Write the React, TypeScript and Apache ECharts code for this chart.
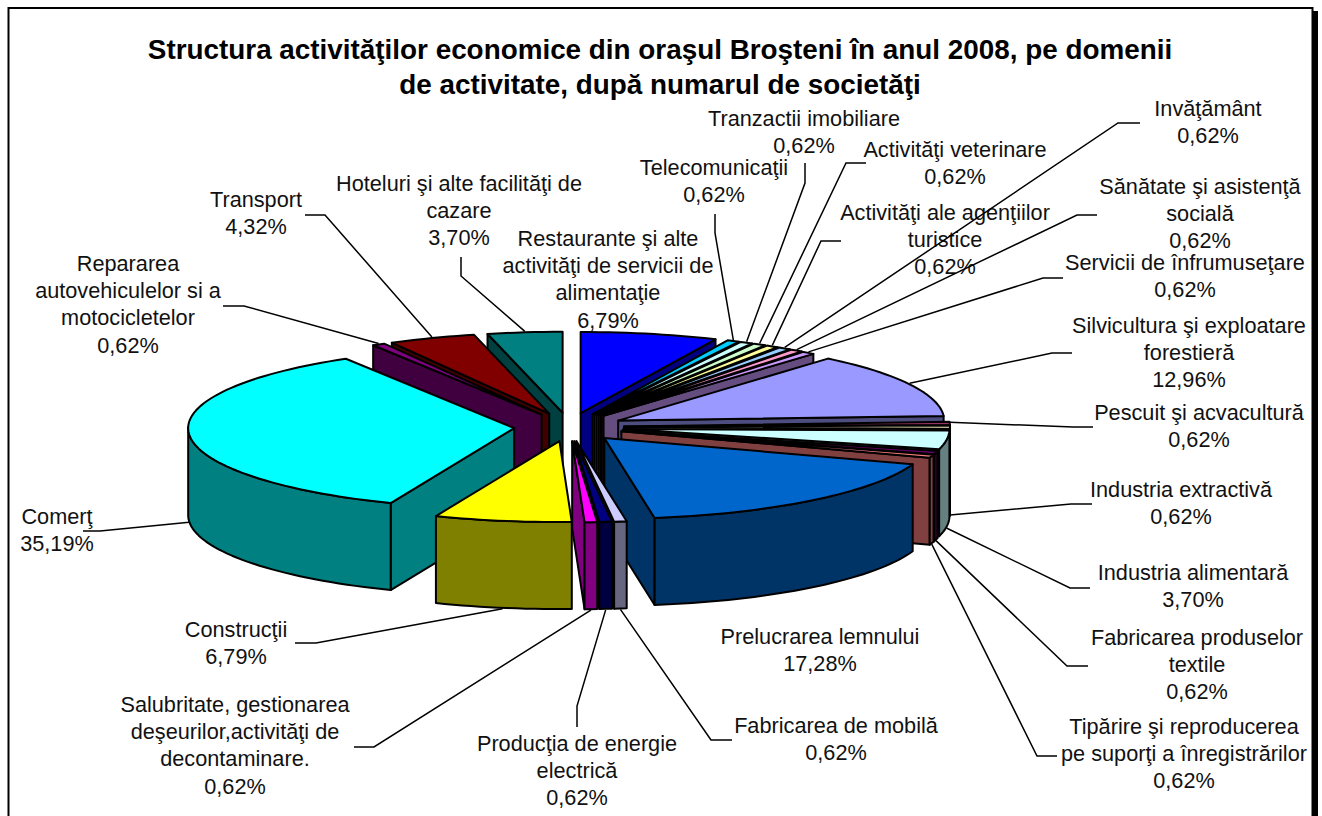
import React, { useEffect, useRef } from "react";
import * as echarts from "echarts";

const titleLines = [
  "Structura activităţilor economice din oraşul Broşteni în anul 2008, pe domenii",
  "de activitate, după numarul de societăţi",
];

const names = [
  "Restaurante şi alte\nactivităţi de servicii de\nalimentaţie",
  "Telecomunicaţii",
  "Tranzactii imobiliare",
  "Activităţi veterinare",
  "Activităţi ale agenţiilor\nturistice",
  "Invăţământ",
  "Sănătate şi asistenţă\nsocială",
  "Servicii de înfrumuseţare",
  "Silvicultura şi exploatare\nforestieră",
  "Pescuit şi acvacultură",
  "Industria extractivă",
  "Industria alimentară",
  "Fabricarea produselor\ntextile",
  "Tipărire şi reproducerea\npe suporţi a înregistrărilor",
  "Prelucrarea lemnului",
  "Fabricarea de mobilă",
  "Producţia de energie\nelectrică",
  "Salubritate, gestionarea\ndeşeurilor,activităţi de\ndecontaminare.",
  "Construcţii",
  "Comerţ",
  "Repararea\nautovehiculelor si a\nmotocicletelor",
  "Transport",
  "Hoteluri şi alte facilităţi de\ncazare",
];

const values = [
  6.79, 0.62, 0.62, 0.62, 0.62, 0.62, 0.62, 0.62, 12.96, 0.62, 0.62, 3.7, 0.62,
  0.62, 17.28, 0.62, 0.62, 0.62, 6.79, 35.19, 0.62, 4.32, 3.7,
];

const topColors = [
  "#0000FF", "#00CCFF", "#CCFFFF", "#CCFFCC", "#FFFF99", "#99CCFF", "#FF99CC", "#CC99FF",
  "#9999FF", "#993366", "#FFFFCC", "#CCFFFF", "#660066", "#FF8080", "#0066CC", "#CCCCFF",
  "#000080", "#FF00FF", "#FFFF00", "#00FFFF", "#800080", "#800000", "#008080",
];

// Label layout: centre x and y of the block's first line.
const labelX = [608, 714, 804, 955, 945, 1208, 1200, 1185, 1189, 1199, 1181, 1193, 1197, 1184, 820, 836, 577, 235, 236, 57, 128, 256, 459];
const labelY = [238, 167, 118, 149, 212, 108, 186, 262, 325, 412, 489, 572, 637, 726, 636, 725, 743, 704, 629, 516, 263, 199, 183];

// Leader layout: [elbow x, elbow y, end x, end y]; empty when the label has no leader.
const leaders: number[][] = [
  [], [715, 233, 715, 214], [805, 183, 805, 163], [846, 163, 866, 163], [821, 241, 841, 241],
  [1118, 123, 1140, 123], [1077, 215, 1097, 215], [1043, 278, 1063, 278], [1052, 353, 1072, 353],
  [1073, 427, 1093, 427], [1071, 504, 1092, 504], [1070, 588, 1090, 588], [1067, 666, 1088, 666],
  [1037, 756, 1057, 756], [], [711, 740, 732, 740], [577, 706, 577, 727], [374, 747, 354, 747],
  [316, 643, 295, 643], [100, 531, 83, 531], [244, 306, 223, 306], [325, 215, 305, 215], [461, 276, 461, 257],
];

const FONT = "'Liberation Sans', Arial, sans-serif";
const CX = 569, CY = 427, RX = 326, RY = 81, EX = 55, EY = 14.3, DEPTH = 87;

function shade(hex: string) {
  const n = parseInt(hex.slice(1), 16);
  const h = (v: number) => Math.round(v / 2).toString(16).padStart(2, "0");
  return "#" + h((n >> 16) & 255) + h((n >> 8) & 255) + h(n & 255);
}

const total = values.reduce((a, b) => a + b, 0);
const starts: number[] = [];
values.reduce((acc, v, i) => ((starts[i] = acc), acc + v), 0);
const toAngle = (p: number) => (p / total) * Math.PI * 2;

function apexOf(i: number) {
  const mid = toAngle(starts[i] + values[i] / 2);
  return [CX + EX * Math.sin(mid), CY - EY * Math.cos(mid)];
}
function rim(i: number, a: number, dz = 0) {
  const [ax, ay] = apexOf(i);
  return [ax + RX * Math.sin(a), ay - RY * Math.cos(a) + dz];
}

// Back slices are painted first.
const drawOrder = values
  .map((_, i) => i)
  .sort((p, q) => Math.cos(toAngle(starts[q] + values[q] / 2)) - Math.cos(toAngle(starts[p] + values[p] / 2)));

const edge = { stroke: "#000", lineWidth: 2, lineJoin: "round" as const };

function renderSlice(_: any, api: any) {
  const i = api.value(0) as number;
  const a1 = toAngle(starts[i]);
  const a2 = toAngle(starts[i] + (api.value(1) as number));
  const [ax, ay] = apexOf(i);
  const side = shade(topColors[i]);
  const children: any[] = [];
  const poly = (points: number[][], fill: string) =>
    children.push({ type: "polygon", shape: { points }, style: { fill, ...edge } });
  const radial = (a: number) => {
    const p = rim(i, a), q = rim(i, a, DEPTH);
    poly([[ax, ay], p, q, [ax, ay + DEPTH]], side);
  };
  if (Math.sin(a1) < 0) radial(a1);
  if (Math.sin(a2) > 0) radial(a2);
  const steps = Math.max(2, Math.ceil((a2 - a1) / 0.03));
  const arc: number[] = [];
  for (let s = 0; s <= steps; s++) arc.push(a1 + ((a2 - a1) * s) / steps);
  const front = arc.filter((a) => Math.cos(a) <= 0.02);
  if (front.length > 1) {
    poly([...front.map((a) => rim(i, a)), ...front.slice().reverse().map((a) => rim(i, a, DEPTH))], side);
  }
  poly([[ax, ay], ...arc.map((a) => rim(i, a))], topColors[i]);
  return { type: "group", children };
}

function renderLabel(_: any, api: any) {
  const i = api.value(0) as number;
  const v = api.value(1) as number;
  const children: any[] = [];
  const l = leaders[i];
  if (l.length) {
    const mid = toAngle(starts[i] + v / 2);
    const anchor = rim(i, mid, Math.cos(mid) < 0 ? DEPTH + 1 : -1);
    children.push({
      type: "polyline",
      shape: { points: [anchor, [l[0], l[1]], [l[2], l[3]]] },
      style: { fill: "none", stroke: "#000", lineWidth: 1.5 },
    });
  }
  const text = names[i] + "\n" + v.toFixed(2).replace(".", ",") + "%";
  children.push({
    type: "text",
    style: {
      text,
      x: labelX[i],
      y: labelY[i] - 13.7,
      align: "center",
      verticalAlign: "top",
      fill: "#111",
      font: `21.7px ${FONT}`,
      lineHeight: 27.4,
    },
  });
  return { type: "group", children };
}

export default function App() {
  const ref = useRef<HTMLDivElement>(null);
  useEffect(() => {
    const chart = echarts.init(ref.current!, undefined, { renderer: "svg" });
    const data = drawOrder.map((i) => ({ name: names[i], value: [i, values[i]] }));
    chart.setOption({
      animation: false,
      backgroundColor: "#fff",
      title: {
        text: titleLines.join("\n"),
        left: 655,
        top: 27,
        textAlign: "center",
        textStyle: { fontFamily: FONT, fontWeight: "bold", fontSize: 27.85, lineHeight: 35, color: "#000" },
      },
      graphic: [
        { type: "rect", shape: { x: 1312, y: 11, width: 6, height: 810 }, style: { fill: "#000" } },
        { type: "rect", shape: { x: 8.5, y: 8, width: 1304, height: 820 }, style: { fill: "none", stroke: "#000", lineWidth: 2 } },
      ],
      series: [
        { type: "custom", coordinateSystem: "none", renderItem: renderSlice, data, z: 2, silent: true },
        { type: "custom", coordinateSystem: "none", renderItem: renderLabel, data, z: 3, silent: true },
      ],
    });
    return () => chart.dispose();
  }, []);
  return <div ref={ref} style={{ position: "absolute", left: 0, top: 0, width: 1322, height: 816 }} />;
}
